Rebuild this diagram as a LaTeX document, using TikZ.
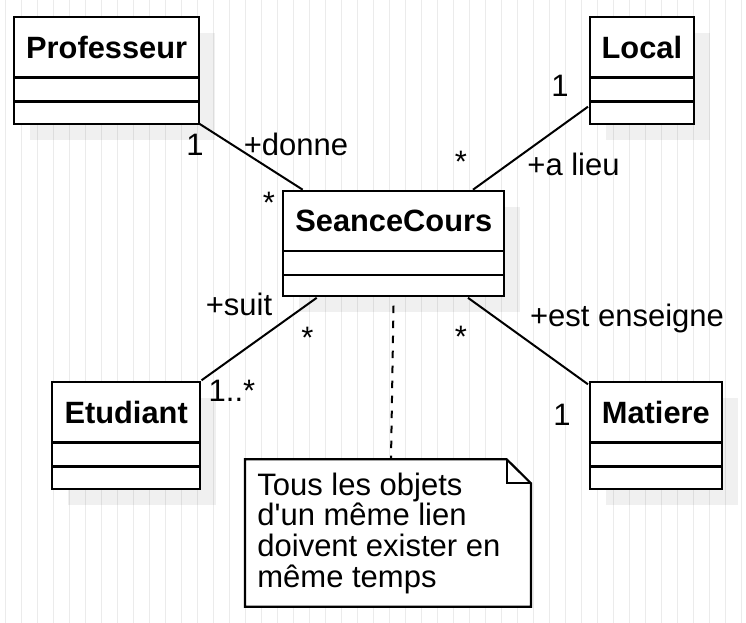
\documentclass[tikz,border=0pt]{standalone}
\usepackage{fontspec}
\setmainfont{Liberation Sans}[Ligatures=TeXOff]
\usetikzlibrary{calc,shadows}

\begin{document}
\begin{tikzpicture}[x=1pt,y=-1pt,
  every node/.style={font=\fontsize{31pt}{30.8pt}\selectfont, inner sep=0pt, outer sep=0pt},
  classbox/.style={draw, line width=2.2pt, fill=white, anchor=north west, minimum height=106.4pt,
    general shadow={shadow xshift=16pt, shadow yshift=-16pt, fill=black, opacity=0.06}},
  classtitle/.style={anchor=base, font=\fontsize{30.8pt}{30pt}\selectfont\bfseries},
  divider/.style={line width=2.2pt},
  assoc/.style={line width=2pt},
  lbl/.style={anchor=base},
  dashline/.style={line width=2pt, dash pattern=on 7.5pt off 7.5pt},
  noteline/.style={line width=2.2pt, line join=miter},
  gridline/.style={draw=black!8, line width=1pt},
]
\useasboundingbox (0,0) rectangle (746,622);
\fill[white] (0,0) rectangle (746,622);
\begin{scope}
  \clip (0,0) rectangle (746,622);
  \draw[gridline, shift={(5,2.3)}] (-16,-16) grid[step=16] (752,624);
\end{scope}

% classes
\node[classbox, minimum width=185.3pt] (prof) at (14,17.3) {};
\node[classbox, minimum width=103.7pt] (local) at (590,17.3) {};
\node[classbox, minimum width=221pt, minimum height=105.6pt] (sc) at (283.3,190.7) {};
\node[classbox, minimum width=147.7pt] (etu) at (52.3,382.3) {};
\node[classbox, minimum width=131.7pt] (mat) at (590,382.3) {};

\foreach \n/\t in {prof/Professeur, local/Local, sc/SeanceCours, etu/Etudiant, mat/Matiere} {
  \node[classtitle] (\n-title) at ($(\n.north)+(0,41)$) {\t};
  \draw[divider] ($(\n.north west)+(0,60.2)$) -- ($(\n.north east)+(0,60.2)$);
  \draw[divider] ($(\n.north west)+(0,84.2)$) -- ($(\n.north east)+(0,84.2)$);
}

% note
\node[anchor=north west, minimum width=286pt, minimum height=147.4pt] (note) at (245,459.3) {};
\draw[noteline, fill=white] (note.north west) -- ($(note.north east)+(-24.3,0)$) -- ($(note.north east)+(0,24)$)
  -- (note.south east) -- (note.south west) -- cycle;
\draw[noteline] ($(note.north east)+(-24.3,0)$) -- ($(note.north east)+(-24.3,24)$) -- ($(note.north east)+(0,24)$);
\node[anchor=base west, align=left] (notetext) at (257.4,587.4) {Tous les objets\\d'un même lien\\doivent exister en\\même temps};

% associations
\draw[assoc] (prof.south east) -- ($(sc.north west)+(19.4,-1)$);
\draw[assoc] ($(local.north west)+(-2,89.4)$) -- ($(sc.north west)+(189.7,-1)$);
\draw[assoc] ($(sc.south west)+(33.4,1.5)$) -- ($(etu.north east)+(1.5,-2)$);
\draw[assoc] ($(sc.south west)+(184.7,1.5)$) -- ($(mat.north west)+(-2,2)$);
\draw[dashline] ($(sc.south)+(-0.3,9.4)$) -- ($(note.north west)+(146,0)$);

% labels
\node[lbl] (l1) at (195,155.7) {1};
\node[lbl] (l2) at (296,155.7) {+donne};
\node[lbl] (l3) at (269,213.5) {*};
\node[lbl] (l4) at (560,96) {1};
\node[lbl] (l5) at (461,172) {*};
\node[lbl] (l6) at (573.5,175) {+a lieu};
\node[lbl] (l7) at (239,315.5) {+suit};
\node[lbl] (l8) at (307.5,348) {*};
\node[lbl] (l9) at (232,401.7) {1..*};
\node[lbl] (l10) at (461,347.5) {*};
\node[lbl] (l11) at (627,326.7) {+est enseigne};
\node[lbl] (l12) at (562,425) {1};
\end{tikzpicture}
\end{document}
